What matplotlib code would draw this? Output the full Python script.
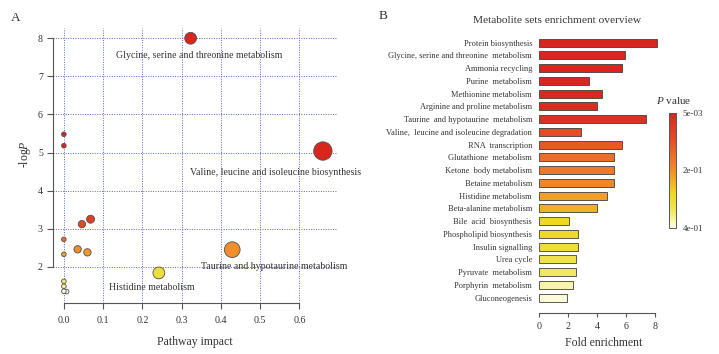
import matplotlib
matplotlib.use("Agg")
import matplotlib.pyplot as plt
import numpy as np
from matplotlib.colors import LinearSegmentedColormap, Normalize
from matplotlib.cm import ScalarMappable

plt.rcParams['font.family'] = ['Liberation Serif', 'DejaVu Serif']
plt.rcParams['mathtext.fontset'] = 'custom'
plt.rcParams['mathtext.rm'] = 'Liberation Serif'
plt.rcParams['mathtext.it'] = 'Liberation Serif:italic'

# ---------------- Panel A data ----------------
impact = [0.323, 0.660, 0.0, 0.0, 0.068, 0.046, 0.0, 0.035, 0.060, 0.0,
          0.429, 0.242, 0.0, 0.0, 0.0, 0.007]
neglogp = [8.00, 5.04, 5.48, 5.18, 3.25, 3.12, 2.72, 2.46, 2.38, 2.33,
           2.45, 1.84, 1.62, 1.49, 1.36, 1.35]
bubble_size = [72, 175, 11, 11, 33, 28, 11, 28, 28, 11,
               128, 72, 11, 11, 11, 11]
labels_A = ["Glycine, serine and threonine metabolism",
            "Valine, leucine and isoleucine biosynthesis",
            "Taurine and hypotaurine metabolism",
            "Histidine metabolism"]
label_pos_A = [(0.344, 7.54, 'center'), (0.321, 4.47, 'left'),
               (0.349, 2.00, 'left'), (0.116, 1.46, 'left')]

# ---------------- Panel B data ----------------
sets = ["Protein biosynthesis", "Glycine, serine and threonine  metabolism",
        "Ammonia recycling", "Purine  metabolism", "Methionine metabolism",
        "Arginine and proline metabolism", "Taurine  and hypotaurine  metabolism",
        "Valine,  leucine and isoleucine degradation", "RNA  transcription",
        "Glutathione  metabolism", "Ketone  body metabolism", "Betaine metabolism",
        "Histidine metabolism", "Beta-alanine metabolism", "Bile  acid  biosynthesis",
        "Phospholipid biosynthesis", "Insulin signalling", "Urea cycle",
        "Pyruvate  metabolism", "Porphyrin  metabolism", "Gluconeogenesis"]
fold = [8.18, 5.97, 5.74, 3.44, 4.33, 3.99, 7.38, 2.88, 5.74, 5.16, 5.16,
        5.16, 4.70, 3.99, 2.10, 2.72, 2.72, 2.56, 2.56, 2.35, 1.91]
pvals = [0.001, 0.002, 0.003, 0.008, 0.010, 0.020, 0.030, 0.100, 0.120,
         0.155, 0.170, 0.190, 0.220, 0.240, 0.280, 0.290, 0.300, 0.320,
         0.340, 0.370, 0.390]
cbar_ticks = [0.005, 0.2, 0.4]
cbar_ticklabels = ["5e-03", "2e-01", "4e-01"]

cmap = LinearSegmentedColormap.from_list(
    "pv", [(0.0, '#d8261e'), (0.25, '#e4502a'), (0.5, '#f08e2a'),
           (0.7, '#f0d820'), (0.85, '#f0e85c'), (1.0, '#fffff0')])

grid_col = '#5a64c8'
txt_col = '#333333'

fig = plt.figure(figsize=(7.19, 3.54), dpi=100)

# ---------------- Panel A ----------------
axA = fig.add_axes([0.0741, 0.144, 0.3946, 0.777])
normA = Normalize(vmin=1.3, vmax=3.6)
colA = [cmap(1 - normA(v)) for v in neglogp]
order = np.argsort(bubble_size)
axA.scatter(np.array(impact)[order], np.array(neglogp)[order],
            s=np.array(bubble_size)[order], c=[colA[i] for i in order],
            edgecolors='#505050', linewidths=0.6, zorder=3)
axA.set_xlim(-0.027, 0.696)
axA.set_ylim(1.05, 8.27)
axA.set_xticks(np.arange(0, 0.61, 0.1))
axA.set_xticklabels([f"{v:.1f}" for v in np.arange(0, 0.61, 0.1)])
axA.set_yticks(range(2, 9))
axA.grid(True, color=grid_col, linestyle=(0, (1, 1.5)), linewidth=0.7, zorder=0)
for s in ['top', 'right']:
    axA.spines[s].set_visible(False)
axA.spines['left'].set_bounds(2, 8)
axA.spines['bottom'].set_bounds(0, 0.6)
for s in ['left', 'bottom']:
    axA.spines[s].set_color('#555555')
    axA.spines[s].set_linewidth(0.8)
axA.tick_params(axis='both', labelsize=7.2, colors='#555555', labelcolor=txt_col,
                length=4, width=0.8)
axA.tick_params(axis='x', pad=5)
axA.set_xlabel("Pathway impact", fontsize=8.5, color=txt_col, labelpad=8)
axA.set_ylabel(r"-log$\it{P}$", fontsize=8.5, color=txt_col)
axA.yaxis.set_label_coords(-0.07, 0.54)
for lab, (x, y, ha) in zip(labels_A, label_pos_A):
    axA.text(x, y, lab, fontsize=7.1, ha=ha, va='center', color=txt_col, zorder=4)
fig.text(16 / 719, 1 - 18 / 354, "A", fontsize=9.5, ha='center', va='center', color=txt_col)

# ---------------- Panel B ----------------
axB = fig.add_axes([539 / 719, 1 - 313.3 / 354, 120 / 719, 278.3 / 354])
normB = Normalize(vmin=0.005, vmax=0.4)
colB = [cmap(normB(p)) for p in pvals]
ypos = np.arange(len(sets))
axB.barh(ypos, fold, height=0.63, color=colB, edgecolor='#404040', linewidth=0.6)
axB.set_xlim(0, 8.3)
axB.set_ylim(len(sets) - 1 + 1.22, -0.6)
axB.set_yticks(ypos)
axB.set_yticklabels(sets, fontsize=6.0, color=txt_col)
axB.tick_params(axis='y', length=0, pad=5)
axB.set_xticks([0, 2, 4, 6, 8])
axB.tick_params(axis='x', labelsize=7.2, colors='#555555', labelcolor=txt_col,
                length=3, width=0.8, pad=3)
for s in ['top', 'right', 'left']:
    axB.spines[s].set_visible(False)
axB.spines['bottom'].set_bounds(0, 8)
axB.spines['bottom'].set_color('#555555')
axB.spines['bottom'].set_linewidth(0.8)
axB.set_xlabel("Fold enrichment", fontsize=8.5, color=txt_col, labelpad=5)
axB.xaxis.set_label_coords(0.54, -0.085)
fig.text(557.5 / 719, 1 - 20.7 / 354, "Metabolite sets enrichment overview",
         fontsize=8.2, ha='center', va='center', color=txt_col)
fig.text(382.7 / 719, 1 - 16 / 354, "B", fontsize=9.5, ha='center', va='center', color=txt_col)

# colorbar
cax = fig.add_axes([669.3 / 719, 1 - 228.3 / 354, 6.7 / 719, 115 / 354])
sm = ScalarMappable(norm=normB, cmap=cmap)
cb = fig.colorbar(sm, cax=cax)
cax.invert_yaxis()
cb.set_ticks(cbar_ticks)
cb.set_ticklabels(cbar_ticklabels)
cax.tick_params(length=0, labelsize=6.5, labelcolor=txt_col, pad=5)
cb.outline.set_edgecolor('#555555')
cb.outline.set_linewidth(0.7)
fig.text(674 / 719, 1 - 100.7 / 354, r"$\it{P}$ value", fontsize=8,
         ha='center', va='center', color=txt_col)

fig.savefig("out.png", dpi=100)
